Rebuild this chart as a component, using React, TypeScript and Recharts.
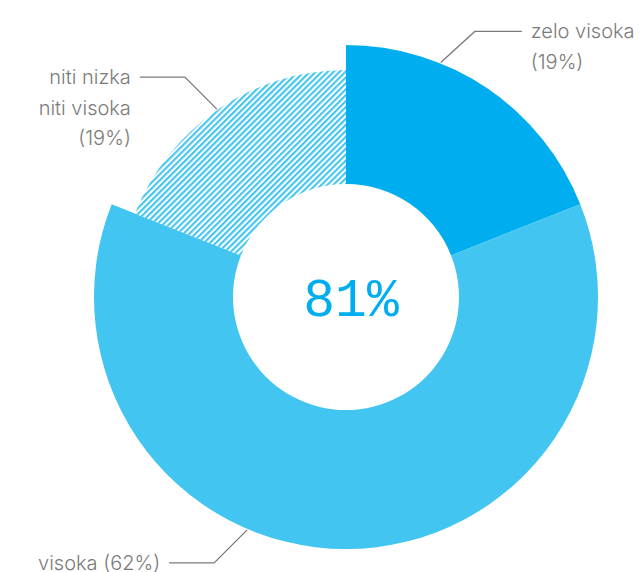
import { PieChart, Pie, Cell } from "recharts"

const categories = ["zelo visoka", "visoka", "niti nizka niti visoka"]
const shares = [19, 62, 19]
const labelLines = [["zelo visoka", "(19%)"], ["visoka (62%)"], ["niti nizka", "niti visoka", "(19%)"]]

const data = categories.map((name, i) => ({ name, value: shares[i] }))
const highShare = shares[0] + shares[1]

const BLUE = "#00aeef"
const LIGHT = "#42c5f0"
const GREY = "#7a7a7a"
const RAD = Math.PI / 180

// leader layout per slice: angle where the line touches the ring, elbow, text side
const leaders = [
  { angle: 68, elbowDx: 34, elbowDy: -31, run: 47, side: 1 },
  { angle: -113, elbowDx: -33, elbowDy: 33, run: -45, side: -1 },
  { angle: 124.5, elbowDx: -32, elbowDy: -32, run: -45, side: -1 },
]

function renderLabel(props: any) {
  const { cx, cy, outerRadius, index } = props
  const l = leaders[index]
  const r = outerRadius + 1
  const x0 = cx + r * Math.cos(l.angle * RAD)
  const y0 = cy - r * Math.sin(l.angle * RAD)
  const x1 = x0 + l.elbowDx
  const y1 = y0 + l.elbowDy
  const x2 = x1 + l.run
  const lines = labelLines[index]
  const tx = x2 + l.side * 9
  return (
    <g key={`lbl-${index}`}>
      <polyline points={`${x0},${y0} ${x1},${y1} ${x2},${y1}`} fill="none" stroke={GREY} strokeWidth={1.3} />
      {lines.map((t, k) => (
        <text
          key={k}
          x={tx}
          y={y1 + k * 30.5}
          dy="0.35em"
          textAnchor={l.side > 0 ? "start" : "end"}
          fill={GREY}
          fontFamily="Inter, 'Noto Sans', sans-serif"
          fontWeight={300}
          fontSize={20}
        >
          {t}
        </text>
      ))}
      {index === 0 && (
        <text
          x={cx + 5}
          y={cy}
          dy="0.35em"
          textAnchor="middle"
          fill={BLUE}
          fontFamily="'Liberation Mono', 'DejaVu Sans Mono', monospace"
          fontSize={53}
        >
          {`${highShare}%`}
        </text>
      )}
    </g>
  )
}

export default function App() {
  return (
    <div style={{ position: "absolute", left: 0, top: 0, width: 643, height: 572, background: "#fff" }}>
      <PieChart width={643} height={572} margin={{ top: 0, right: 0, bottom: 0, left: 0 }}>
        <defs>
          <pattern id="hatch" patternUnits="userSpaceOnUse" width={4.2} height={4.2} patternTransform="rotate(45)">
            <rect x={0} y={0} width={4.2} height={4.2} fill="#fff" />
            <rect x={0} y={0} width={2.1} height={4.2} fill={LIGHT} />
          </pattern>
        </defs>
        <Pie
          data={data}
          dataKey="value"
          cx={346}
          cy={297}
          innerRadius={113}
          outerRadius={252}
          startAngle={90}
          endAngle={-270}
          stroke="none"
          isAnimationActive={false}
          labelLine={false}
          label={(p: any) => (p.index === 2 ? null : renderLabel(p))}
        >
          {data.map((d, i) => (
            <Cell key={d.name} fill={i === 0 ? BLUE : i === 1 ? LIGHT : "none"} />
          ))}
        </Pie>
        <Pie
          data={data}
          dataKey="value"
          cx={346}
          cy={297}
          innerRadius={113}
          outerRadius={227}
          startAngle={90}
          endAngle={-270}
          stroke="none"
          isAnimationActive={false}
          labelLine={false}
          label={(p: any) => (p.index === 2 ? renderLabel(p) : null)}
        >
          {data.map((d, i) => (
            <Cell key={d.name} fill={i === 2 ? "url(#hatch)" : "none"} />
          ))}
        </Pie>
      </PieChart>
    </div>
  )
}
